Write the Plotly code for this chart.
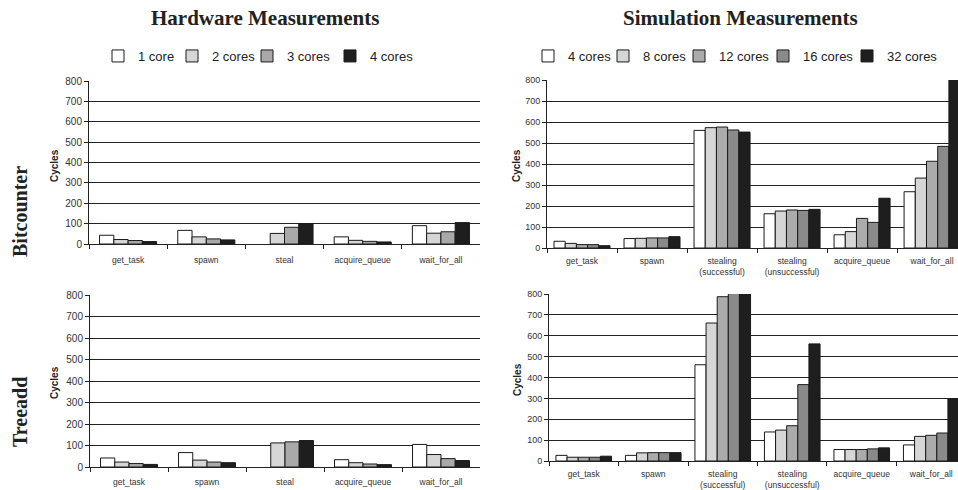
import plotly.graph_objects as go

# ---------------- data ----------------
hw_cats = ["get_task", "spawn", "steal", "acquire_queue", "wait_for_all"]
sim_cats = ["get_task", "spawn", "stealing<br>(successful)", "stealing<br>(unsuccessful)",
            "acquire_queue", "wait_for_all"]

hw_names = ["1 core", "2 cores", "3 cores", "4 cores"]
sim_names = ["4 cores", "8 cores", "12 cores", "16 cores", "32 cores"]

# Hardware, Bitcounter
hw_bit_1 = [43, 67, None, 35, 90]
hw_bit_2 = [22, 35, 52, 18, 53]
hw_bit_3 = [17, 25, 82, 13, 60]
hw_bit_4 = [12, 20, 100, 10, 105]

# Hardware, Treeadd
hw_tree_1 = [42, 67, None, 34, 105]
hw_tree_2 = [23, 32, 112, 20, 58]
hw_tree_3 = [16, 23, 117, 14, 39]
hw_tree_4 = [12, 20, 123, 11, 30]

# Simulation, Bitcounter
sim_bit_4 = [32, 45, 560, 163, 63, 268]
sim_bit_8 = [22, 46, 573, 176, 78, 333]
sim_bit_12 = [16, 48, 576, 181, 141, 413]
sim_bit_16 = [16, 48, 562, 179, 122, 484]
sim_bit_32 = [11, 54, 552, 184, 237, 850]

# Simulation, Treeadd
sim_tree_4 = [27, 27, 461, 139, 55, 77]
sim_tree_8 = [18, 39, 661, 148, 55, 118]
sim_tree_12 = [18, 40, 787, 169, 55, 123]
sim_tree_16 = [18, 40, 850, 366, 58, 134]
sim_tree_32 = [23, 40, 850, 561, 63, 297]

y_ticks = [0, 100, 200, 300, 400, 500, 600, 700, 800]

# ---------------- style ----------------
W, H = 958, 490
hw_colors = ["#ffffff", "#d6d6d6", "#a9a9a9", "#1e1e1e"]
sim_colors = ["#ffffff", "#d6d6d6", "#ababab", "#8a8a8a", "#1e1e1e"]
SANS = "Liberation Sans, Arial, sans-serif"
SERIF = "Liberation Serif, Times New Roman, serif"
OUTLINE = dict(color="#1a1a1a", width=1)

hw_group = 0.73
sim_group = 0.80

# left x-position (px) of each legend entry
hw_leg_x = [98, 172, 247, 330]
sim_leg_x = [528, 603, 679, 763, 847]
LEG_Y = 56


def dom_y(top, bottom):
    return [1 - bottom / H, 1 - top / H]


fig = go.Figure()

hw_bit = [hw_bit_1, hw_bit_2, hw_bit_3, hw_bit_4]
hw_tree = [hw_tree_1, hw_tree_2, hw_tree_3, hw_tree_4]
sim_bit = [sim_bit_4, sim_bit_8, sim_bit_12, sim_bit_16, sim_bit_32]
sim_tree = [sim_tree_4, sim_tree_8, sim_tree_12, sim_tree_16, sim_tree_32]

legend_ids = []
legend_x = []
for k, px in enumerate(hw_leg_x + sim_leg_x):
    legend_ids.append("legend" if k == 0 else "legend%d" % (k + 1))
    legend_x.append(px)

bw = hw_group / len(hw_names)
for i, name in enumerate(hw_names):
    for vals, xa, ya, show in ((hw_bit[i], "x", "y", True), (hw_tree[i], "x3", "y3", False)):
        fig.add_trace(go.Bar(
            x=hw_cats, y=vals, name=name, xaxis=xa, yaxis=ya,
            width=bw, offset=-hw_group / 2 + i * bw,
            marker=dict(color=hw_colors[i], line=OUTLINE),
            showlegend=show, legend=legend_ids[i], legendgroup="hw" + name,
        ))

sw = sim_group / len(sim_names)
for i, name in enumerate(sim_names):
    for vals, xa, ya, show in ((sim_bit[i], "x2", "y2", True), (sim_tree[i], "x4", "y4", False)):
        fig.add_trace(go.Bar(
            x=sim_cats, y=vals, name=name, xaxis=xa, yaxis=ya,
            width=sw, offset=-sim_group / 2 + i * sw,
            marker=dict(color=sim_colors[i], line=OUTLINE),
            showlegend=show, legend=legend_ids[len(hw_names) + i], legendgroup="sim" + name,
        ))


def xax(domain, anchor, size, standoff, rng):
    return dict(domain=domain, anchor=anchor, type="category", automargin=False,
                range=rng,
                showline=True, linecolor="#222", linewidth=1, tickangle=0,
                ticks="outside", tickson="boundaries", ticklen=4, tickcolor="#222",
                tickfont=dict(family=SANS, size=size, color="#333"),
                ticklabelstandoff=standoff, showgrid=False, zeroline=False, fixedrange=True)


def yax(domain, anchor, size):
    return dict(domain=domain, anchor=anchor, range=[0, 800], tickvals=y_ticks,
                automargin=False,
                showline=True, linecolor="#222", linewidth=1,
                ticks="outside", ticklen=4, tickcolor="#222",
                tickfont=dict(family=SANS, size=size, color="#333"),
                showgrid=True, gridcolor="#222222", gridwidth=1,
                zeroline=False, fixedrange=True)


layout = dict(
    width=W, height=H,
    margin=dict(l=0, r=0, t=0, b=0, autoexpand=False),
    paper_bgcolor="white", plot_bgcolor="white",
    barmode="overlay",
    xaxis=xax([89 / W, 480 / W], "y", 8.5, 8, [-0.5, 4.5]),
    yaxis=yax(dom_y(81, 244), "x", 10),
    # the simulation panels run past the right edge of the figure, as in the original
    xaxis2=xax([547 / W, 1.0], "y2", 8.5, 5, [-0.5, 5.37]),
    yaxis2=yax(dom_y(80, 248), "x2", 9),
    xaxis3=xax([90 / W, 480 / W], "y3", 8.5, 7, [-0.5, 4.5]),
    yaxis3=yax(dom_y(295, 467), "x3", 10),
    xaxis4=xax([549 / W, 1.0], "y4", 8.5, 5, [-0.5, 5.385]),
    yaxis4=yax(dom_y(294, 461), "x4", 9),
)
for lid, px in zip(legend_ids, legend_x):
    layout[lid] = dict(orientation="h", x=px / W, y=1 - LEG_Y / H,
                       xanchor="left", yanchor="middle",
                       font=dict(family=SANS, size=13, color="#222"),
                       bgcolor="rgba(0,0,0,0)", itemwidth=30)
fig.update_layout(**layout)

ann = [
    dict(text="<b>Hardware Measurements</b>", x=265 / W, y=1 - 18 / H,
         font=dict(family=SERIF, size=21, color="#222")),
    dict(text="<b>Simulation Measurements</b>", x=740 / W, y=1 - 18 / H,
         font=dict(family=SERIF, size=21, color="#222")),
    dict(text="<b>Bitcounter</b>", x=20 / W, y=1 - 212 / H, textangle=-90,
         font=dict(family=SERIF, size=20, color="#222")),
    dict(text="<b>Treeadd</b>", x=20 / W, y=1 - 412 / H, textangle=-90,
         font=dict(family=SERIF, size=20, color="#222")),
    dict(text="<b>Cycles</b>", x=54 / W, y=1 - 166 / H, textangle=-90,
         font=dict(family=SANS, size=10, color="#222")),
    dict(text="<b>Cycles</b>", x=54 / W, y=1 - 383 / H, textangle=-90,
         font=dict(family=SANS, size=10, color="#222")),
    dict(text="<b>Cycles</b>", x=516 / W, y=1 - 166 / H, textangle=-90,
         font=dict(family=SANS, size=10, color="#222")),
    dict(text="<b>Cycles</b>", x=517 / W, y=1 - 380 / H, textangle=-90,
         font=dict(family=SANS, size=10, color="#222")),
]
for a in ann:
    a.update(xref="paper", yref="paper", showarrow=False, xanchor="center", yanchor="middle")
fig.update_layout(annotations=ann)

fig.write_html("out.html")
